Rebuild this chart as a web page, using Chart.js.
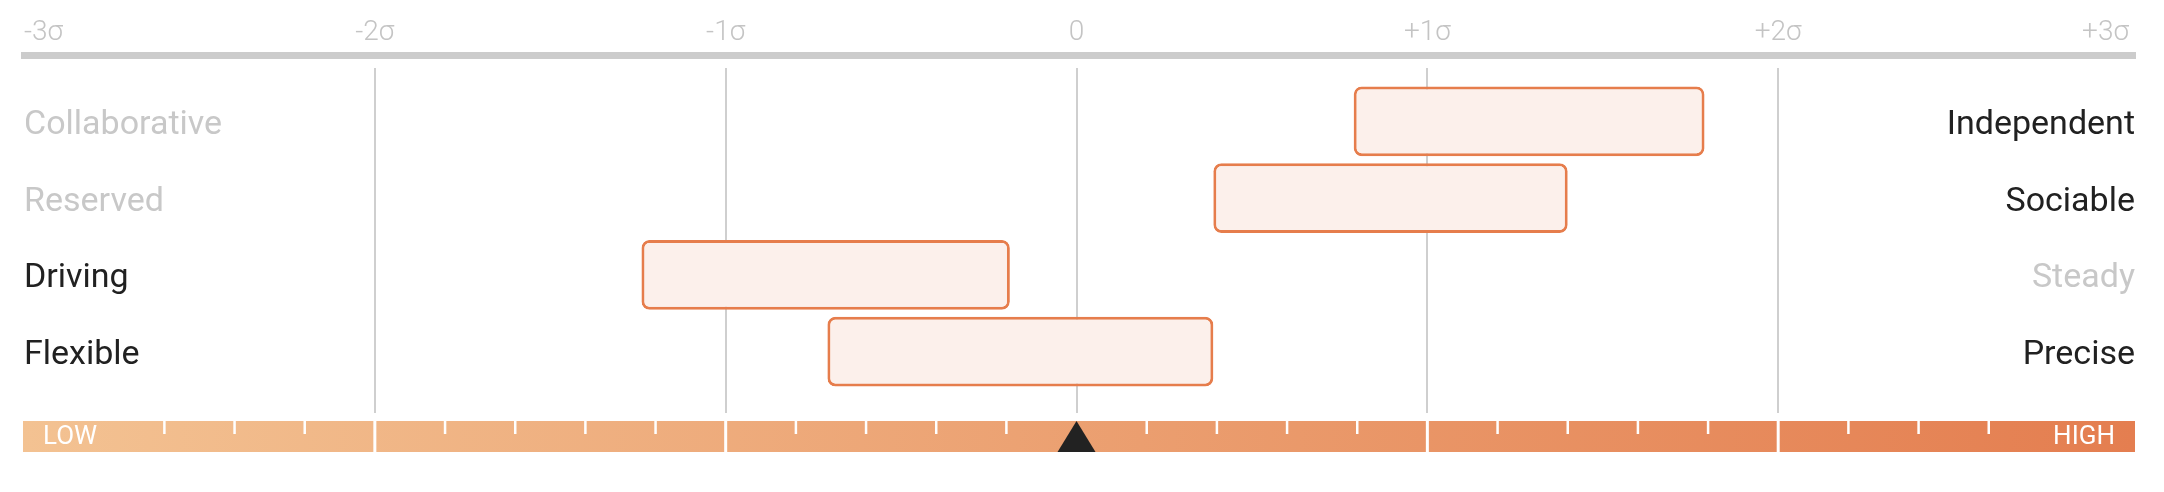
<!DOCTYPE html>
<html>
<head>
<meta charset="utf-8">
<script src="https://cdn.jsdelivr.net/npm/chart.js@4.4.1/dist/chart.umd.min.js"></script>
<style>
  html, body { margin: 0; padding: 0; background: #fff; }
  #wrap { width: 2164px; height: 492px; position: relative; }
</style>
</head>
<body>
<div id="wrap"><canvas id="myChart"></canvas></div>
<script>
// chart values
const leftLabels = ["Collaborative", "Reserved", "Driving", "Flexible"];
const rightLabels = ["Independent", "Sociable", "Steady", "Precise"];
const rangeStart = [0.79, 0.39, -1.24, -0.71];
const rangeEnd = [1.79, 1.4, -0.19, 0.39];
const sigmaTicks = [-3, -2, -1, 0, 1, 2, 3];
const sigmaLabels = ["-3σ", "-2σ", "-1σ", "0", "+1σ", "+2σ", "+3σ"];
const scaleEnds = ["LOW", "HIGH"];

const darkText = "#212121";
const lightText = "#c8c8c8";
const gridGrey = "#cfcfcf";

// rows as floating bars: {y: row, x: [start, end]}
const rows = leftLabels.map((_, i) => ({ y: i, x: [rangeStart[i], rangeEnd[i]] }));

// low / high band under the chart
const lowHighBand = {
  id: "lowHighBand",
  afterDraw(chart) {
    const { ctx, chartArea } = chart;
    const x = chart.scales.x;
    const top = chartArea.bottom + 8;
    const h = 31;
    const left = chartArea.left - 1;
    const right = chartArea.right;

    ctx.save();
    const grad = ctx.createLinearGradient(left, 0, right, 0);
    grad.addColorStop(0, "#f3c292");
    grad.addColorStop(1, "#e47e50");
    ctx.fillStyle = grad;
    ctx.fillRect(left, top, right - left, h);

    // white separators at whole sigmas
    ctx.fillStyle = "#ffffff";
    sigmaTicks.forEach((v) => {
      if (v === 0 || Math.abs(v) === 3) return;
      const px = x.getPixelForValue(v);
      ctx.fillRect(px - 1.5, top, 3, h);
    });

    // small marks every 0.2 sigma
    for (let i = -14; i <= 14; i++) {
      if (i % 5 === 0 || Math.abs(i) === 14) continue;
      const px = x.getPixelForValue(i / 5);
      ctx.fillRect(px - 1.2, top, 2.5, 13);
    }

    // marker at the mean
    const mid = x.getPixelForValue(0);
    ctx.fillStyle = "#222222";
    ctx.beginPath();
    ctx.moveTo(mid, top);
    ctx.lineTo(mid + 19, top + h);
    ctx.lineTo(mid - 19, top + h);
    ctx.closePath();
    ctx.fill();

    // LOW / HIGH
    ctx.fillStyle = "#ffffff";
    ctx.font = "26px Roboto";
    ctx.textBaseline = "middle";
    ctx.textAlign = "left";
    ctx.fillText(scaleEnds[0], chartArea.left + 19, top + h / 2 + 1);
    ctx.textAlign = "right";
    ctx.fillText(scaleEnds[1], chartArea.right - 20, top + h / 2 + 1);
    ctx.restore();
  }
};

const rowAxis = (position, labels, isDark) => ({
  type: "linear",
  position: position,
  reverse: true,
  offset: false,
  min: -0.7,
  max: 3.8,
  grid: { display: false, drawTicks: false, offset: false },
  border: { display: false },
  ticks: {
    mirror: true,
    padding: 0,
    labelOffset: 4,
    stepSize: 1,
    includeBounds: false,
    font: { family: "Roboto", size: 34 },
    color: function (c) {
      const i = c.tick ? c.tick.value : 0;
      return isDark(i) ? darkText : lightText;
    },
    callback: function (value) {
      return labels[value];
    },
  },
});

const ctx = document.getElementById("myChart");
new Chart(ctx, {
  type: "bar",
  data: {
    datasets: [
      {
        data: rows,
        xAxisID: "x",
        yAxisID: "y",
        backgroundColor: "#fcf0eb",
        borderColor: "#e67d4c",
        borderWidth: 3,
        borderRadius: 8,
        borderSkipped: false,
        barPercentage: 0.91,
        categoryPercentage: 1,
      },
    ],
  },
  options: {
    indexAxis: "y",
    responsive: true,
    maintainAspectRatio: false,
    animation: false,
    events: [],
    layout: {
      padding: { top: 10, left: 24, right: 29, bottom: 79 },
    },
    scales: {
      // inner top axis: only the grid lines and the small gap above them
      x: {
        type: "linear",
        position: "top",
        weight: 0,
        min: -3,
        max: 3.017,
        ticks: { display: false, stepSize: 1, includeBounds: false },
        grid: {
          drawTicks: true,
          tickLength: 12,
          tickColor: "rgba(0,0,0,0)",
          lineWidth: 2,
          color: function (c) {
            const v = c.tick ? c.tick.value : 0;
            return Math.abs(v) === 3 ? "rgba(0,0,0,0)" : gridGrey;
          },
        },
        border: { display: false },
      },
      // outer top axis: sigma labels and the thick rule
      x2: {
        type: "linear",
        position: "top",
        weight: 1,
        min: -3,
        max: 3.017,
        grid: { display: false, drawTicks: false },
        border: { display: true, color: "#cccccc", width: 7 },
        ticks: {
          stepSize: 1,
          includeBounds: false,
          align: "inner",
          padding: 6,
          maxRotation: 0,
          color: "#c4c4c4",
          font: { family: "Roboto", size: 28, weight: "300" },
          callback: function (value) {
            return sigmaLabels[sigmaTicks.indexOf(value)];
          },
        },
      },
      y: rowAxis("left", leftLabels, (i) => rangeStart[i] < 0),
      y2: rowAxis("right", rightLabels, (i) => rangeEnd[i] > 0),
    },
    plugins: {
      legend: { display: false },
      tooltip: { enabled: false },
    },
  },
  plugins: [lowHighBand],
});
</script>
</body>
</html>
